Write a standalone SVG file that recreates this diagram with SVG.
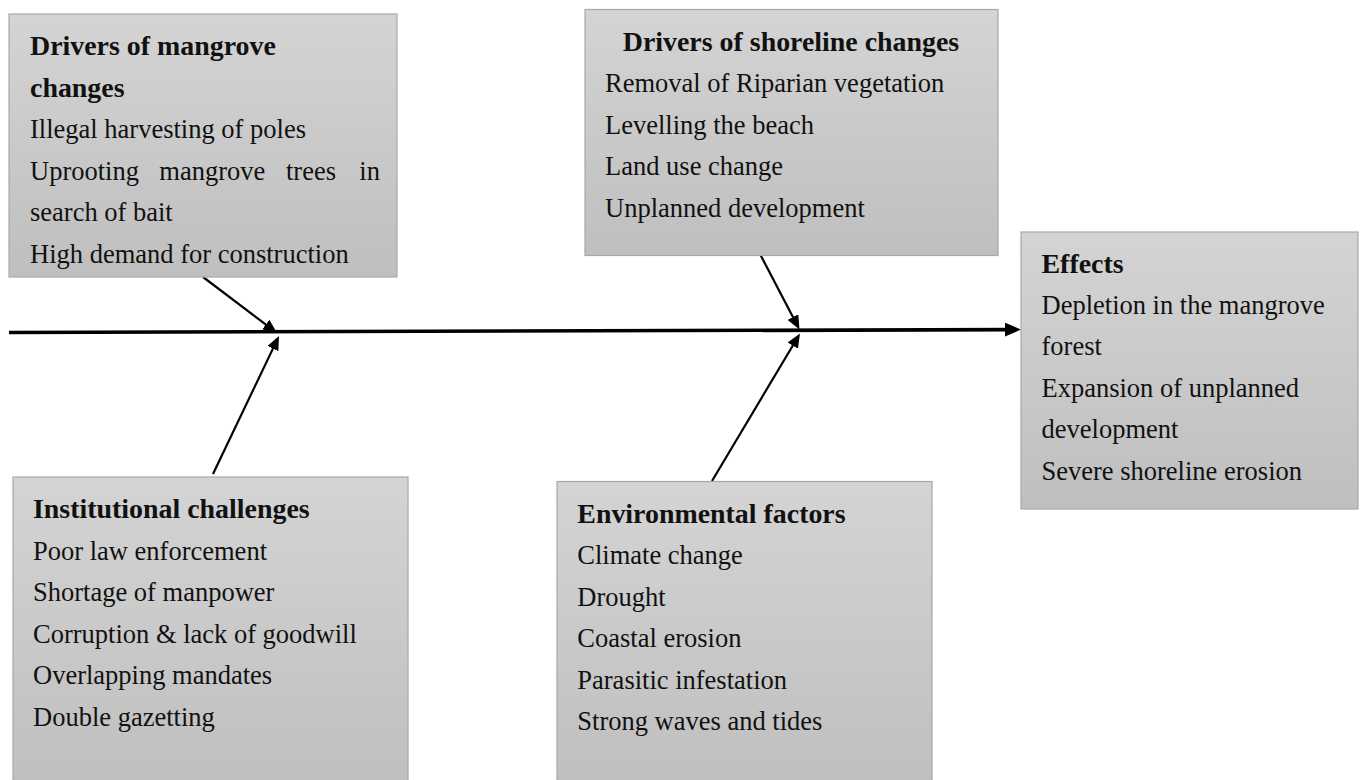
<svg xmlns="http://www.w3.org/2000/svg" width="1362" height="780" viewBox="0 0 1362 780">
  <style>
    .box { fill: url(#grad); stroke: #a8a8a8; stroke-width: 1.2; }
    text { font-family: "Liberation Serif", "Times New Roman", serif; fill: #111; }
    .t { font-size: 27.9px; font-weight: bold; }
    .l { font-size: 26.5px; }
    .conn { stroke: #000; stroke-width: 2.2; fill: none; }
    .spine { stroke: #000; stroke-width: 3.6; fill: none; }
  </style>
  <defs>
    <linearGradient id="grad" x1="0" y1="0" x2="0" y2="1">
      <stop offset="0" stop-color="#d4d4d4"/>
      <stop offset="1" stop-color="#bfbfbf"/>
    </linearGradient>
    <marker id="arr" viewBox="0 0 14 12" refX="8" refY="6" markerWidth="14" markerHeight="12" markerUnits="userSpaceOnUse" orient="auto">
      <path d="M0,0 L14,6 L0,12 z" fill="#000"/>
    </marker>
    <marker id="arrBig" viewBox="0 0 16 14" refX="8" refY="7" markerWidth="16" markerHeight="14" markerUnits="userSpaceOnUse" orient="auto">
      <path d="M0,0 L16,7 L0,14 z" fill="#000"/>
    </marker>
  </defs>
  <rect width="1362" height="780" fill="#fff"/>

  <g id="connectors">
    <line class="spine" x1="9" y1="332.5" x2="1013" y2="329.6" marker-end="url(#arrBig)"/>
    <line class="conn" x1="203" y1="277" x2="272.2" y2="329.4" marker-end="url(#arr)"/>
    <line class="conn" x1="213" y1="474" x2="276.4" y2="341.4" marker-end="url(#arr)"/>
    <line class="conn" x1="760" y1="254" x2="796.7" y2="324.2" marker-end="url(#arr)"/>
    <line class="conn" x1="712" y1="481" x2="796.9" y2="338.7" marker-end="url(#arr)"/>
  </g>

  <g id="mangrove-drivers">
    <rect class="box" x="9" y="14" width="388" height="263"/>
    <text class="t" x="30" y="55">Drivers of mangrove</text>
    <text class="t" x="30" y="96.5">changes</text>
    <text class="l" x="30" y="138">Illegal harvesting of poles</text>
    <text class="l" y="179.5"><tspan x="30">Uprooting</tspan><tspan x="159.3">mangrove</tspan><tspan x="286">trees</tspan><tspan x="359.3">in</tspan></text>
    <text class="l" x="30" y="221">search of bait</text>
    <text class="l" x="30" y="262.5">High demand for construction</text>
  </g>

  <g id="shoreline-drivers">
    <rect class="box" x="585" y="9.5" width="413" height="246"/>
    <text class="t" x="791" y="51" text-anchor="middle">Drivers of shoreline changes</text>
    <text class="l" x="605" y="92">Removal of Riparian vegetation</text>
    <text class="l" x="605" y="133.5">Levelling the beach</text>
    <text class="l" x="605" y="175">Land use change</text>
    <text class="l" x="605" y="216.5">Unplanned development</text>
  </g>

  <g id="effects">
    <rect class="box" x="1021" y="232" width="337" height="277"/>
    <text class="t" x="1041.5" y="272.5">Effects</text>
    <text class="l" x="1041.5" y="313.5">Depletion in the mangrove</text>
    <text class="l" x="1041.5" y="355">forest</text>
    <text class="l" x="1041.5" y="396.5">Expansion of unplanned</text>
    <text class="l" x="1041.5" y="438">development</text>
    <text class="l" x="1041.5" y="479.5">Severe shoreline erosion</text>
  </g>

  <g id="institutional-challenges">
    <rect class="box" x="13" y="477" width="395" height="310"/>
    <text class="t" x="33" y="518.3">Institutional challenges</text>
    <text class="l" x="33" y="559.7">Poor law enforcement</text>
    <text class="l" x="33" y="601">Shortage of manpower</text>
    <text class="l" x="33" y="642.5">Corruption &amp; lack of goodwill</text>
    <text class="l" x="33" y="684">Overlapping mandates</text>
    <text class="l" x="33" y="725.5">Double gazetting</text>
  </g>

  <g id="environmental-factors">
    <rect class="box" x="557" y="481.5" width="375" height="305"/>
    <text class="t" x="577.3" y="522.7">Environmental factors</text>
    <text class="l" x="577.3" y="564">Climate change</text>
    <text class="l" x="577.3" y="605.5">Drought</text>
    <text class="l" x="577.3" y="647">Coastal erosion</text>
    <text class="l" x="577.3" y="688.5">Parasitic infestation</text>
    <text class="l" x="577.3" y="730">Strong waves and tides</text>
  </g>
</svg>
